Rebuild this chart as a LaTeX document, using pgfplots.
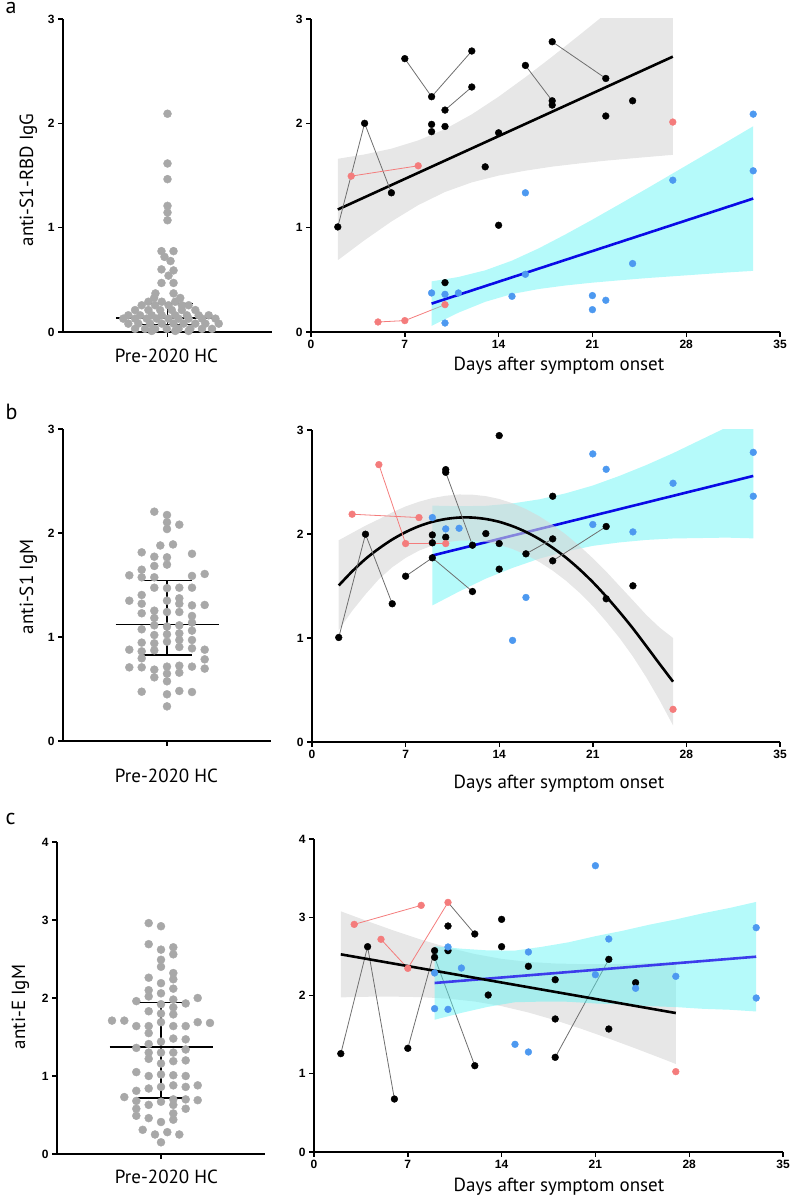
\documentclass[border=0pt]{standalone}
\usepackage{fontspec}
\setmainfont{PT Sans}
\newfontfamily\tickfont{Liberation Sans}
\usepackage{pgfplots}
\pgfplotsset{compat=1.18}

\definecolor{hcgray}{RGB}{168,168,168}
\definecolor{salmon}{RGB}{244,124,124}
\definecolor{ptblue}{RGB}{77,153,240}
\definecolor{regblue}{RGB}{10,10,230}
\definecolor{regblueC}{RGB}{60,60,235}
\definecolor{cyanband}{RGB}{90,245,245}
\definecolor{grayband}{RGB}{215,215,215}
\definecolor{conn}{RGB}{110,110,110}

\pgfplotsset{
  base/.style={scale only axis, anchor=south west,
    axis x line*=bottom, axis y line*=left,
    axis line style={line width=1.6pt,-},
    tick style={line width=1.4pt,black}, major tick length=5pt, tick align=outside,
    ticklabel style={font=\tickfont\bfseries\fontsize{12}{12}\selectfont},
    /pgf/number format/assume math mode=true,
    ymin=0},
  leftp/.style={base, xmin=-104, xmax=104, xtick={0}, xticklabels={}},
  rightp/.style={base, xmin=0, xmax=35, xtick={0,7,14,21,28,35}},
  hcdot/.style={only marks, mark=*, mark size=4pt, color=hcgray},
  bar/.style={black, line width=1.5pt},
  pt/.style={only marks, mark=*, mark size=3.4pt, color=#1},
  link/.style={color=#1, line width=0.8pt},
  gband/.style={draw=none, fill=grayband, fill opacity=0.6},
  cband/.style={draw=none, fill=cyanband, fill opacity=0.45},
  reg/.style={color=#1, line width=2.6pt},
}

\begin{document}
\begin{tikzpicture}
\useasboundingbox (0pt,0pt) rectangle (790pt,1199pt);

% ---------------- row a ----------------
\begin{axis}[leftp, at={(63pt,867pt)}, width=209pt, height=313pt, ymax=3, ytick={0,1,2,3}]
\addplot[hcdot] coordinates {
(0,2.092)(0,1.615)(0,1.465)(0,1.209)(0,1.145)(0,1.071)
(-6,0.775)(6,0.775)(-3,0.72)(3,0.68)(-6,0.60)(6,0.59)(1,0.54)(-6,0.47)(6,0.47)(-12,0.37)(6,0.37)
(-13.3,0.326)(12.7,0.326)
(-19,0.29)(-5.7,0.29)(7.7,0.29)
(-25.7,0.256)(-12.3,0.256)(1,0.256)(14.3,0.256)(21,0.256)
(-32.3,0.21)(-19,0.21)(-7.3,0.21)(4.3,0.21)(14.3,0.21)(27.7,0.21)
(-39,0.16)(-27.3,0.16)(-15.7,0.16)(-5.7,0.16)(7.7,0.16)(19.3,0.16)(31,0.16)(41,0.16)
(-44,0.128)(-32.3,0.128)(-20.7,0.128)(-10.7,0.128)(1,0.128)(11,0.128)(21,0.128)(34.3,0.128)(47.7,0.128)
(-39,0.08)(-29,0.08)(-17.3,0.08)(-5.7,0.08)(6,0.08)(16,0.08)(27.7,0.08)(37.7,0.08)(51,0.08)
(-32.3,0.03)(-22.3,0.03)(-12.3,0.03)(-0.7,0.03)(11,0.03)(22.7,0.03)(34.3,0.03)(44.3,0.03)
(-15.7,0.01)(7.7,0.01)(21,0.01)
};
\addplot[bar] coordinates {(-51.5,0.134)(51.5,0.134)};
\addplot[bar] coordinates {(-25,0.275)(25,0.275)};
\addplot[bar] coordinates {(-25,0.074)(25,0.074)};
\addplot[bar] coordinates {(0,0.074)(0,0.275)};
\end{axis}

\begin{axis}[rightp, at={(311pt,867pt)}, width=469pt, height=313pt, ymax=3, ytick={0,1,2,3}]
\addplot[gband] coordinates {(2,1.660)(4,1.702)(6,1.757)(8,1.836)(10,1.944)(12,2.086)(14,2.255)(16,2.442)(18,2.639)(20,2.843)(22,3.050)(24,3.261)(26,3.473)(27,3.580)
(27,1.698)(26,1.687)(24,1.665)(22,1.642)(20,1.615)(18,1.585)(16,1.546)(14,1.499)(12,1.434)(10,1.342)(8,1.216)(6,1.059)(4,0.880)(2,0.688)} -- cycle;
\addplot[reg=black] coordinates {(2,1.174)(27,2.639)};
\addplot[link=conn] coordinates {(2,1.007)(4,2.00)(6,1.334)};
\addplot[link=conn] coordinates {(7,2.62)(9,2.255)(12,2.693)};
\addplot[link=conn] coordinates {(10,2.127)(12,2.348)};
\addplot[link=conn] coordinates {(16,2.555)(18,2.216)};
\addplot[link=conn] coordinates {(18,2.782)(22,2.43)};
\addplot[link=salmon] coordinates {(3,1.494)(8,1.593)};
\addplot[link=salmon] coordinates {(5,0.096)(7,0.109)(10,0.262)};
\addplot[pt=black] coordinates {(2,1.007)(4,2.00)(6,1.334)(7,2.62)(9,2.255)(9,1.99)(9,1.92)(10,2.127)(10,1.97)(12,2.693)(12,2.348)(13,1.583)(14,1.909)(14,1.023)(16,2.555)(18,2.782)(18,2.216)(18,2.175)(22,2.43)(22,2.07)(24,2.216)(10,0.473)};
\addplot[pt=salmon] coordinates {(3,1.494)(8,1.593)(5,0.096)(7,0.109)(10,0.262)(27,2.012)};
\addplot[cband] coordinates {(9,0.485)(11,0.527)(13,0.591)(15,0.684)(17,0.802)(19,0.936)(21,1.077)(23,1.223)(25,1.370)(27,1.520)(29,1.670)(31,1.820)(33,1.972)
(33,0.586)(31,0.570)(29,0.552)(27,0.534)(25,0.516)(23,0.495)(21,0.473)(19,0.446)(17,0.412)(15,0.364)(13,0.289)(11,0.185)(9,0.059)} -- cycle;
\addplot[reg=regblue] coordinates {(9,0.272)(33,1.279)};
\addplot[pt=ptblue] coordinates {(9,0.374)(10,0.361)(11,0.374)(10,0.086)(15,0.342)(16,1.334)(16,0.553)(21,0.349)(21,0.214)(22,0.304)(24,0.656)(27,1.455)(33,2.088)(33,1.545)};
\end{axis}

% ---------------- row b ----------------
\begin{axis}[leftp, at={(63pt,458pt)}, width=208pt, height=312pt, ymax=3, ytick={0,1,2,3}]
\addplot[hcdot] coordinates {
(-12.7,2.205)(0,2.173)(0,2.103)(0,2.038)(12.3,2.08)
(-6.7,1.88)(6,1.89)
(-25.3,1.814)(-12.7,1.772)(0,1.766)(25,1.80)
(-25.3,1.647)(-12.7,1.683)(0,1.696)
(-37.7,1.593)(-25.3,1.574)(-12.7,1.574)(25,1.587)(37.7,1.606)
(-12.7,1.474)(0,1.47)(12.3,1.474)(25,1.474)
(-37.7,1.349)(-25.3,1.404)(0,1.349)(12.3,1.372)
(-25.3,1.32)(12.3,1.32)(25,1.304)(37.7,1.308)
(-25.3,1.228)(-12.7,1.253)(0,1.24)(12.3,1.24)(25,1.202)
(-12.7,1.183)
(-25.3,1.074)(-12.7,1.112)(0,1.10)(12.3,1.112)(25,1.138)
(-12.7,1.019)(0,1.026)(12.3,1.035)(25,1.061)
(-25.3,0.946)(-12.7,0.939)(0,0.955)(12.3,0.971)(25,0.971)
(-37.7,0.878)(-25.3,0.862)(-12.7,0.872)(12.3,0.904)(25,0.891)(37.7,0.878)
(-25.3,0.795)(37.7,0.785)
(-37.7,0.708)(-25.3,0.708)(-12.7,0.686)(0,0.715)(12.3,0.724)(25,0.715)(37.7,0.696)
(-12.7,0.612)(0,0.647)(12.3,0.657)
(0,0.574)
(-25.3,0.474)(0,0.449)(12.3,0.481)(25,0.471)
(0,0.333)
};
\addplot[bar] coordinates {(-51.5,1.122)(51.5,1.122)};
\addplot[bar] coordinates {(-25,1.542)(25,1.542)};
\addplot[bar] coordinates {(-25,0.827)(25,0.827)};
\addplot[bar] coordinates {(0,0.827)(0,1.542)};
\end{axis}

\begin{axis}[rightp, at={(312pt,457pt)}, width=468pt, height=312pt, ymax=3, ytick={0,1,2,3}]
\addplot[cband] coordinates {(9,2.273)(11,2.267)(13,2.271)(15,2.294)(17,2.333)(19,2.392)(21,2.466)(23,2.559)(25,2.663)(27,2.777)(29,2.901)(31,3.025)(33,3.158)
(33,1.958)(31,1.965)(29,1.961)(27,1.957)(25,1.943)(23,1.919)(21,1.886)(19,1.832)(17,1.763)(15,1.674)(13,1.571)(11,1.447)(9,1.313)} -- cycle;
\addplot[reg=regblue] coordinates {(9,1.793)(33,2.558)};
\addplot[pt=ptblue] coordinates {(9,2.158)(10,2.049)(11,2.055)(15,0.977)(16,1.39)(21,2.77)(21,2.091)(22,2.622)(24,2.02)(27,2.488)(33,2.785)(33,2.363)};
\addplot[pt=salmon] coordinates {(27,0.314)};
\addplot[gband] coordinates {(2,1.940)(3,2.010)(4,2.080)(5,2.142)(6,2.208)(7,2.265)(8,2.310)(9,2.345)(10,2.368)(11,2.380)(12,2.378)(13,2.364)(14,2.337)(15,2.295)(16,2.240)(17,2.171)(18,2.088)(19,1.994)(20,1.886)(21,1.767)(22,1.639)(23,1.500)(24,1.362)(25,1.222)(26,1.100)(27,1.000)
(27,0.160)(26,0.400)(25,0.622)(24,0.822)(23,1.000)(22,1.159)(21,1.307)(20,1.436)(19,1.550)(18,1.648)(17,1.731)(16,1.800)(15,1.855)(14,1.897)(13,1.924)(12,1.938)(11,1.936)(10,1.920)(9,1.889)(8,1.840)(7,1.770)(6,1.680)(5,1.565)(4,1.420)(3,1.260)(2,1.076)} -- cycle;
\addplot[reg=black, smooth] coordinates {(2,1.505)(3,1.640)(4,1.760)(5,1.860)(6,1.947)(7,2.018)(8,2.075)(9,2.117)(10,2.144)(11,2.158)(12,2.158)(13,2.144)(14,2.117)(15,2.075)(16,2.020)(17,1.951)(18,1.868)(19,1.772)(20,1.661)(21,1.537)(22,1.399)(23,1.250)(24,1.092)(25,0.922)(26,0.750)(27,0.580)};
\addplot[link=conn] coordinates {(2,1.005)(4,1.998)(6,1.329)};
\addplot[link=conn] coordinates {(7,1.594)(9,1.771)(12,1.447)};
\addplot[link=conn] coordinates {(10,2.593)(12,1.892)};
\addplot[link=conn] coordinates {(16,1.809)(18,1.953)};
\addplot[link=conn] coordinates {(18,1.742)(22,2.072)};
\addplot[link=salmon] coordinates {(3,2.19)(8,2.158)};
\addplot[link=salmon] coordinates {(5,2.667)(7,1.908)(10,1.908)};
\addplot[pt=black] coordinates {(2,1.005)(4,1.998)(6,1.329)(7,1.594)(9,1.991)(9,1.915)(9,1.771)(10,2.619)(10,2.593)(10,1.969)(12,1.892)(12,1.447)(13,2.004)(14,2.946)(14,1.908)(14,1.662)(16,1.809)(18,2.363)(18,1.953)(18,1.742)(22,2.072)(22,1.377)(24,1.502)};
\addplot[pt=salmon] coordinates {(3,2.19)(8,2.158)(5,2.667)(7,1.908)(10,1.908)};
\end{axis}

% ---------------- row c ----------------
\begin{axis}[leftp, at={(57pt,45pt)}, width=208pt, height=312pt, ymax=4, ytick={0,1,2,3,4}]
\addplot[hcdot] coordinates {
(-12.3,2.96)(0,2.92)
(-12.3,2.69)(0,2.62)(12.3,2.65)(12.3,2.56)
(0,2.49)(0,2.40)
(-12.3,2.26)(12.3,2.32)(12.3,2.24)(0,2.19)
(-12.3,2.10)(12.3,2.12)(0,2.06)
(-24.7,1.96)(-12.3,2.02)(12.3,1.98)(24.7,1.93)(36.7,2.00)
(-12.3,1.83)(0,1.80)(12.3,1.88)(12.3,1.79)(0,1.92)
(-49,1.71)(-36.7,1.71)(-24.7,1.64)(-12.3,1.64)(0,1.69)(12.3,1.64)(24.7,1.64)(36.7,1.69)(49,1.68)
(-12.3,1.55)
(-24.7,1.36)(-12.3,1.41)(0,1.44)(12.3,1.48)(24.7,1.47)
(-12.3,1.30)(0,1.30)(12.3,1.30)(24.7,1.34)
(-12.3,1.22)(0,1.16)(12.3,1.19)(24.7,1.20)
(-24.7,1.05)(-12.3,1.00)(0,1.02)(12.3,1.01)(24.7,1.00)
(-12.3,0.84)(0,0.86)(12.3,0.88)(24.7,0.86)(36.7,0.88)
(-36.7,0.73)(-24.7,0.81)(-24.7,0.68)(0,0.67)(12.3,0.70)(24.7,0.70)(36.7,0.69)
(-24.7,0.58)(-12.3,0.63)(12.3,0.63)(24.7,0.58)
(-24.7,0.49)(-12.3,0.46)(0,0.41)(12.3,0.52)(12.3,0.44)
(-18.3,0.31)(-6,0.25)(6.3,0.28)(18.3,0.25)
(0,0.15)
};
\addplot[bar] coordinates {(-51.5,1.369)(51.5,1.369)};
\addplot[bar] coordinates {(-24.7,1.94)(24.7,1.94)};
\addplot[bar] coordinates {(-24.7,0.72)(24.7,0.72)};
\addplot[bar] coordinates {(0,0.72)(0,1.94)};
\end{axis}

\begin{axis}[rightp, at={(314pt,47pt)}, width=469pt, height=313pt, ymax=4, ytick={0,1,2,3,4}]
\addplot[gband] coordinates {(2,3.076)(4,2.949)(6,2.827)(8,2.713)(10,2.613)(12,2.530)(14,2.468)(16,2.429)(18,2.409)(20,2.401)(22,2.402)(24,2.409)(26,2.420)(27,2.427)
(27,1.125)(26,1.192)(24,1.323)(22,1.450)(20,1.571)(18,1.684)(16,1.783)(14,1.864)(12,1.923)(10,1.960)(8,1.979)(6,1.985)(4,1.984)(2,1.976)} -- cycle;
\addplot[link=conn] coordinates {(2,1.257)(4,2.624)(6,0.677)};
\addplot[link=conn] coordinates {(7,1.325)(9,2.573)};
\addplot[link=conn] coordinates {(9,2.488)(12,1.103)};
\addplot[link=conn] coordinates {(10,3.19)(12,2.786)};
\addplot[link=conn] coordinates {(18,1.21)(22,2.462)};
\addplot[link=salmon] coordinates {(3,2.909)(8,3.152)};
\addplot[link=salmon] coordinates {(5,2.718)(7,2.347)(10,3.19)};
\addplot[pt=black] coordinates {(9,2.488)(10,2.573)(13,2.006)(16,2.373)(18,2.202)(22,2.462)(24,2.164)};
\addplot[pt=salmon] coordinates {(7,2.347)};
\addplot[cband] coordinates {(9,2.630)(11,2.598)(13,2.576)(15,2.574)(17,2.622)(19,2.680)(21,2.758)(23,2.826)(25,2.904)(27,2.972)(29,3.050)(31,3.118)(33,3.196)
(33,1.796)(31,1.818)(29,1.830)(27,1.852)(25,1.864)(23,1.886)(21,1.898)(19,1.920)(17,1.922)(15,1.914)(13,1.856)(11,1.778)(9,1.690)} -- cycle;
\addplot[reg=regblueC] coordinates {(9,2.160)(33,2.496)};
\addplot[reg=black] coordinates {(2,2.526)(27,1.776)};
\addplot[pt=ptblue] coordinates {(9,2.288)(9,1.832)(10,2.62)(10,1.823)(11,2.351)(15,1.376)(16,2.556)(16,1.278)(21,3.659)(21,2.266)(22,2.722)(24,2.092)(27,2.245)(33,2.867)(33,1.968)};
\addplot[pt=black] coordinates {(2,1.257)(4,2.624)(6,0.677)(7,1.325)(9,2.573)(10,2.888)(12,2.786)(12,1.103)(14,2.973)(14,2.624)(18,1.70)(18,1.21)(22,1.572)};
\addplot[pt=salmon] coordinates {(3,2.909)(8,3.152)(5,2.718)(10,3.19)(27,1.027)};
\end{axis}

% ---------------- labels ----------------
\begin{scope}[every node/.style={font=\fontsize{19}{19}\selectfont}]
\node[anchor=base west, font=\fontsize{22}{22}\selectfont] at (2pt,1185pt) {a};
\node[anchor=base west, font=\fontsize{22}{22}\selectfont] at (2pt,779pt) {b};
\node[anchor=base west, font=\fontsize{22}{22}\selectfont] at (2pt,374pt) {c};
\node[rotate=90, anchor=base] at (33pt,1019pt) {anti-S1-RBD IgG};
\node[rotate=90, anchor=base] at (33pt,612pt) {anti-S1 IgM};
\node[rotate=90, anchor=base] at (25pt,192pt) {anti-E IgM};
\node[anchor=base] at (166.5pt,836pt) {Pre-2020 HC};
\node[anchor=base] at (559pt,828pt) {Days after symptom onset};
\node[anchor=base] at (166.5pt,416pt) {Pre-2020 HC};
\node[anchor=base] at (559pt,410pt) {Days after symptom onset};
\node[anchor=base] at (166.5pt,16pt) {Pre-2020 HC};
\node[anchor=base] at (559pt,7pt) {Days after symptom onset};
\end{scope}
\end{tikzpicture}
\end{document}
